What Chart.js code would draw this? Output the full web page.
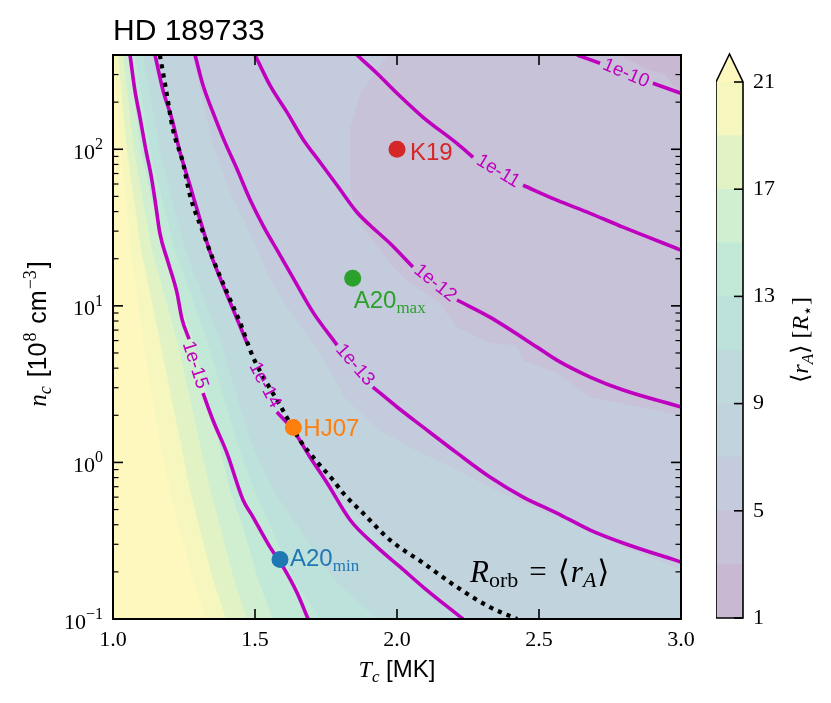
<!DOCTYPE html>
<html>
<head>
<meta charset="utf-8">
<script src="https://cdn.jsdelivr.net/npm/chart.js@4.4.1/dist/chart.umd.min.js"></script>
<style>
  html, body { margin: 0; padding: 0; background: #fff; }
  #wrap { position: relative; width: 831px; height: 703px; }
  #chart { position: absolute; left: 0; top: 0; }
  #cbar { position: absolute; left: 716px; top: 0; }
</style>
</head>
<body>
<div id="wrap">
  <canvas id="chart" width="831" height="703"></canvas>
  <canvas id="cbar" width="115" height="703"></canvas>
</div>
<script>
// axis limits
const xMin = 1, xMax = 3, yMin = 0.1, yMax = 400;
const xTicks = [1.0, 1.5, 2.0, 2.5, 3.0];
const yMajor = [0.1, 1, 10, 100];
const yMajorExp = ['\u22121', '0', '1', '2'];
const yMinor = [0.2, 0.3, 0.4, 0.5, 0.6, 0.7, 0.8, 0.9, 2, 3, 4, 5, 6, 7, 8, 9,
                20, 30, 40, 50, 60, 70, 80, 90, 200, 300, 400];

// filled contours of <r_A>: edge of each level (T in MK, n in 1e8 cm^-3)
const rowN   = [400, 98.5, 22.7, 6.04, 1.39, 0.667, 0.371, 0.178, 0.1];
const edge21 = [1.004, 1.028, 1.063, 1.106, 1.165, 1.201, 1.236, 1.282, 1.331];
const edge19 = [1.018, 1.049, 1.099, 1.165, 1.236, 1.271, 1.306, 1.352, 1.398];
const edge17 = [1.035, 1.074, 1.137, 1.225, 1.303, 1.342, 1.380, 1.426, 1.472];
const edge15 = [1.053, 1.099, 1.176, 1.282, 1.370, 1.412, 1.461, 1.511, 1.563];
const edge13 = [1.077, 1.130, 1.218, 1.331, 1.433, 1.496, 1.560, 1.637, 1.729];
const edge11 = [1.106, 1.165, 1.254, 1.377, 1.482, 1.563, 1.658, 1.778, 1.930];
const edge9  = [1.155, 1.225, 1.331, 1.458, 1.648, 1.775, 1.912, 2.067, 2.257];
const edge7T = [1.278, 1.317, 1.352, 1.412, 1.482, 1.553, 1.616, 1.722, 1.817, 1.926, 2.046, 2.211, 2.327, 2.444, 2.563, 2.680, 2.796, 3.0];
const edge7N = [400, 200, 106, 53.2, 29.5, 14.8, 9.67, 5.22, 2.58, 1.66, 1.25, 0.894, 0.697, 0.551, 0.448, 0.370, 0.288, 0.206];
const edge5T = [1.968, 1.870, 1.835, 1.835, 1.880, 1.986, 2.046, 2.151, 2.211, 2.327, 2.423, 2.444, 2.563, 2.680, 2.856, 3.0];
const edge5N = [400, 227, 138, 54.7, 31.8, 17.7, 14.0, 10.4, 7.31, 5.78, 5.61, 4.50, 3.72, 2.61, 2.26, 2.0];
const edge3T = [2.785, 2.891, 2.944, 2.972, 3.0];
const edge3N = [400, 319, 305, 256, 238];

// mass-loss contours (null = gap for the inline label)
const m15T = [1.060, 1.077, 1.095, 1.116, 1.134, 1.148, 1.165, 1.194, 1.225, 1.243, 1.268, null, 1.317, 1.352, 1.401, 1.458, 1.493, 1.553, 1.599, 1.648, 1.687];
const m15N = [400, 238, 160, 98.5, 68.2, 47.3, 29.1, 19.0, 12.2, 8.23, 6.13, null, 2.77, 1.86, 1.15, 0.575, 0.448, 0.288, 0.215, 0.147, 0.1];
const m14T = [1.148, 1.176, 1.208, 1.236, 1.271, 1.306, 1.342, 1.387, 1.437, 1.475, null, 1.577, 1.634, 1.694, 1.754, 1.835, 1.930, 2.011, 2.092, 2.232];
const m14N = [400, 238, 155, 95.7, 58.9, 35.8, 22.0, 13.6, 8.23, 5.61, null, 2.10, 1.61, 1.08, 0.739, 0.429, 0.288, 0.215, 0.160, 0.1];
const m13T = [1.289, 1.317, 1.352, 1.394, 1.437, 1.482, 1.528, 1.588, 1.648, 1.704, 1.789, null, 1.915, 2.000, 2.092, 2.211, 2.327, 2.444, 2.563, 2.680, 2.796, 3.0];
const m13N = [400, 256, 172, 111, 74.5, 48.0, 32.7, 21.1, 13.6, 9.12, 5.61, null, 3.03, 2.26, 1.68, 1.15, 0.807, 0.601, 0.475, 0.370, 0.306, 0.231];
const m12T = [1.500, 1.553, 1.613, 1.669, 1.729, 1.789, 1.859, 1.905, 1.975, 2.056, null, 2.211, 2.327, 2.493, 2.563, 2.680, 2.796, 3.0];
const m12N = [400, 256, 172, 116, 82.6, 58.9, 39.6, 32.7, 25.1, 17.7, null, 10.9, 8.47, 5.45, 4.50, 3.51, 2.90, 2.26];
const m11T = [1.859, 1.930, 2.000, 2.092, 2.211, 2.268, null, 2.444, 2.563, 2.680, 2.796, 3.0];
const m11N = [400, 305, 228, 160, 109, 88.9, null, 58.9, 47.3, 39.0, 31.8, 22.7];
const m10T = [2.634, 2.715, null, 2.901, 3.0];
const m10N = [400, 354, null, 264, 228];

const lblText = ['1e-15', '1e-14', '1e-13', '1e-12', '1e-11', '1e-10'];
const lblT = [1.289, 1.535, 1.852, 2.134, 2.356, 2.806];
const lblN = [4.19, 3.12, 4.19, 13.96, 72.4, 305];
const lblAngle = [72, 62, 49, 39, 31, 23];

// R_orb = <r_A>
const orbT = [1.165, 1.187, 1.211, 1.246, 1.271, 1.317, 1.352, 1.401, 1.447, 1.493, 1.542, 1.588, 1.658, 1.718, 1.775, 1.810, 1.880, 1.975, 2.092, 2.211, 2.327, 2.423];
const orbN = [400, 238, 134, 82.6, 50.9, 29.5, 19.9, 12.2, 7.87, 4.71, 3.21, 2.32, 1.39, 1.01, 0.772, 0.638, 0.475, 0.320, 0.228, 0.160, 0.119, 0.1];
const orbLabelT = 2.257, orbLabelN = 0.1726;

// literature estimates
const srcNames = ['K19', 'A20', 'HJ07', 'A20'];
const srcSubs = ['', 'max', '', 'min'];
const srcT = [2.0, 1.844, 1.635, 1.588];
const srcN = [100, 15, 1.67, 0.24];

// colour bar
const cbLevels = [1, 3, 5, 7, 9, 11, 13, 15, 17, 19, 21];
const cbTicks = [1, 5, 9, 13, 17, 21];

const bandColors = ['rgb(200,184,209)', 'rgb(199,194,216)', 'rgb(196,203,220)', 'rgb(193,211,221)',
  'rgb(190,218,221)', 'rgb(189,226,219)', 'rgb(194,233,215)', 'rgb(207,239,208)',
  'rgb(225,243,197)', 'rgb(245,247,190)'];
const extColor = 'rgb(254,248,190)';
const lineColor = '#bf00bf';
const srcColors = ['#d62728', '#2ca02c', '#ff7f0e', '#1f77b4'];
const srcDx = [13, 1, 10, 10], srcDy = [11, 30, 8, 7];

const serif = '"Liberation Serif", "DejaVu Serif", serif';
const sans = '"Liberation Sans", Arial, sans-serif';

function toPts(T, N) { return T.map((t, i) => ({x: t, y: N[i]})); }
function region(T, N) {
  const pts = toPts(T, N);
  if (pts[pts.length - 1].x < xMax) pts.push({x: xMax, y: yMin});
  pts.push({x: xMax, y: yMax});
  return pts;
}

const edges = [[21, edge21, rowN], [19, edge19, rowN], [17, edge17, rowN], [15, edge15, rowN],
  [13, edge13, rowN], [11, edge11, rowN], [9, edge9, rowN],
  [7, edge7T, edge7N], [5, edge5T, edge5N], [3, edge3T, edge3N]];

const bandSets = edges.map(([lev, T, N], i) => ({
  data: region(T, N), fill: 'shape', backgroundColor: bandColors[(lev - 3) / 2],
  borderColor: 'rgba(0,0,0,0)', borderWidth: 0, pointRadius: 0, tension: 0, order: 100 - i
}));

const lineSets = [[m15T, m15N], [m14T, m14N], [m13T, m13N], [m12T, m12N], [m11T, m11N], [m10T, m10N]]
  .map(([T, N]) => ({
    data: toPts(T, N), borderColor: lineColor, borderWidth: 3.6, pointRadius: 0,
    fill: false, cubicInterpolationMode: 'monotone', order: 10
  }));

const orbSet = {
  data: toPts(orbT, orbN), borderColor: '#000', borderWidth: 4.2, borderDash: [4.2, 5.2],
  borderCapStyle: 'butt', pointRadius: 0, fill: false, cubicInterpolationMode: 'monotone', order: 9
};

const srcSet = {
  data: toPts(srcT, srcN), showLine: false, pointRadius: 8.5, pointBorderWidth: 0,
  pointBackgroundColor: srcColors, fill: false, order: 1
};

function runsWidth(ctx, runs) {
  let w = 0;
  for (const r of runs) { ctx.font = r.f; w += ctx.measureText(r.t).width + (r.gap || 0); }
  return w;
}
function drawRuns(ctx, x, y, runs, color) {
  ctx.fillStyle = color;
  ctx.textAlign = 'left';
  ctx.textBaseline = 'alphabetic';
  for (const r of runs) {
    ctx.font = r.f;
    ctx.fillText(r.t, x, y + (r.dy || 0));
    x += ctx.measureText(r.t).width + (r.gap || 0);
  }
}
function seg(ctx, x1, y1, x2, y2) {
  ctx.beginPath(); ctx.moveTo(x1, y1); ctx.lineTo(x2, y2); ctx.stroke();
}

const decor = {
  id: 'decor',
  beforeDatasetsDraw(chart) {
    const {ctx, chartArea: a} = chart;
    ctx.save();
    ctx.fillStyle = extColor;
    ctx.fillRect(a.left, a.top, a.right - a.left, a.bottom - a.top);
    ctx.restore();
  },
  afterDraw(chart) {
    const {ctx, chartArea: a, scales: {x, y}} = chart;
    ctx.save();

    // inline contour labels
    ctx.fillStyle = lineColor;
    ctx.font = `19px ${sans}`;
    ctx.textAlign = 'center';
    ctx.textBaseline = 'middle';
    lblText.forEach((t, i) => {
      ctx.save();
      ctx.translate(x.getPixelForValue(lblT[i]), y.getPixelForValue(lblN[i]));
      ctx.rotate(lblAngle[i] * Math.PI / 180);
      ctx.fillText(t, 0, 0);
      ctx.restore();
    });

    // source labels
    srcNames.forEach((name, i) => {
      const px = x.getPixelForValue(srcT[i]) + srcDx[i];
      const py = y.getPixelForValue(srcN[i]) + srcDy[i];
      const runs = [{t: name, f: `24px ${sans}`}];
      if (srcSubs[i]) runs.push({t: srcSubs[i], f: `17px ${serif}`, dy: 5});
      drawRuns(ctx, px, py, runs, srcColors[i]);
    });

    // R_orb = <r_A>
    drawRuns(ctx, x.getPixelForValue(orbLabelT), y.getPixelForValue(orbLabelN), [
      {t: 'R', f: `italic 31px ${serif}`},
      {t: 'orb', f: `22px ${serif}`, dy: 5, gap: 11},
      {t: '=', f: `31px ${serif}`, gap: 11},
      {t: '\u27E8', f: `31px ${serif}`, gap: 1},
      {t: 'r', f: `italic 31px ${serif}`},
      {t: 'A', f: `italic 22px ${serif}`, dy: 5, gap: 1},
      {t: '\u27E9', f: `31px ${serif}`}
    ], '#000');

    // ticks and frame
    ctx.strokeStyle = '#000';
    ctx.lineWidth = 1.6;
    xTicks.forEach(v => {
      const px = x.getPixelForValue(v);
      seg(ctx, px, a.bottom, px, a.bottom - 10);
      seg(ctx, px, a.top, px, a.top + 10);
    });
    yMajor.forEach(v => {
      const py = y.getPixelForValue(v);
      seg(ctx, a.left, py, a.left + 10, py);
      seg(ctx, a.right, py, a.right - 10, py);
    });
    ctx.lineWidth = 1.2;
    yMinor.forEach(v => {
      const py = y.getPixelForValue(v);
      seg(ctx, a.left, py, a.left + 5.5, py);
      seg(ctx, a.right, py, a.right - 5.5, py);
    });
    ctx.lineWidth = 2;
    ctx.strokeRect(a.left, a.top, a.right - a.left, a.bottom - a.top);

    // tick labels
    ctx.fillStyle = '#000';
    ctx.font = `22px ${serif}`;
    ctx.textAlign = 'center';
    ctx.textBaseline = 'alphabetic';
    xTicks.forEach(v => ctx.fillText(v.toFixed(1), x.getPixelForValue(v), a.bottom + 27));
    yMajor.forEach((v, i) => {
      const py = y.getPixelForValue(v);
      ctx.textAlign = 'right';
      ctx.font = `16px ${serif}`;
      const supW = ctx.measureText(yMajorExp[i]).width;
      ctx.fillText(yMajorExp[i], a.left - 10, py);
      ctx.font = `22px ${serif}`;
      ctx.fillText('10', a.left - 10 - supW, py + 9.5);
    });

    // axis titles
    const xt = [
      {t: 'T', f: `italic 24px ${serif}`},
      {t: 'c', f: `italic 17px ${serif}`, dy: 5},
      {t: ' [MK]', f: `24px ${sans}`}
    ];
    drawRuns(ctx, (a.left + a.right) / 2 - runsWidth(ctx, xt) / 2, 677, xt, '#000');

    const yt = [
      {t: 'n', f: `italic 25px ${serif}`},
      {t: 'c', f: `italic 18px ${serif}`, dy: 5, gap: 2},
      {t: ' [10', f: `25px ${sans}`, gap: 1},
      {t: '8', f: `18px ${serif}`, dy: -10, gap: 2},
      {t: ' cm', f: `25px ${sans}`, gap: 1},
      {t: '\u22123', f: `18px ${serif}`, dy: -10, gap: 2},
      {t: ']', f: `25px ${sans}`}
    ];
    ctx.save();
    ctx.translate(46, (a.top + a.bottom) / 2 - 3);
    ctx.rotate(-Math.PI / 2);
    drawRuns(ctx, -runsWidth(ctx, yt) / 2, 0, yt, '#000');
    ctx.restore();

    // title
    ctx.fillStyle = '#000';
    ctx.font = `30px ${sans}`;
    ctx.textAlign = 'left';
    ctx.fillText('HD 189733', a.left, 40);
    ctx.restore();
  }
};

new Chart(document.getElementById('chart'), {
  type: 'line',
  data: {datasets: [srcSet, orbSet, ...lineSets, ...bandSets]},
  options: {
    responsive: false,
    animation: false,
    events: [],
    layout: {padding: {top: 55, right: 150, left: 0, bottom: 0}},
    plugins: {legend: {display: false}, tooltip: {enabled: false}, title: {display: false}},
    scales: {
      x: {
        type: 'linear', min: xMin, max: xMax,
        ticks: {display: false}, grid: {display: false, drawTicks: false}, border: {display: false},
        afterFit: s => { s.height = 84; }
      },
      y: {
        type: 'logarithmic', min: yMin, max: yMax,
        ticks: {display: false}, grid: {display: false, drawTicks: false}, border: {display: false},
        afterFit: s => { s.width = 113; }
      }
    }
  },
  plugins: [decor]
});

// colour bar
const cbDecor = {
  id: 'cbDecor',
  afterDraw(chart) {
    const {ctx, chartArea: a, scales: {y}} = chart;
    const mid = (a.left + a.right) / 2;
    ctx.save();
    ctx.fillStyle = extColor;
    ctx.beginPath();
    ctx.moveTo(a.left, a.top); ctx.lineTo(mid, a.top - 28); ctx.lineTo(a.right, a.top); ctx.closePath();
    ctx.fill();
    ctx.strokeStyle = '#000';
    ctx.lineWidth = 1.6;
    ctx.beginPath();
    ctx.moveTo(a.left, a.bottom); ctx.lineTo(a.left, a.top); ctx.lineTo(mid, a.top - 28);
    ctx.lineTo(a.right, a.top); ctx.lineTo(a.right, a.bottom); ctx.closePath();
    ctx.stroke();
    cbTicks.forEach(v => seg(ctx, a.right - 9, y.getPixelForValue(v), a.right, y.getPixelForValue(v)));

    const runs = [
      {t: '\u27E8', f: `24px ${serif}`},
      {t: 'r', f: `italic 24px ${serif}`},
      {t: 'A', f: `italic 17px ${serif}`, dy: 5},
      {t: '\u27E9', f: `24px ${serif}`, gap: 6},
      {t: '[', f: `24px ${serif}`},
      {t: 'R', f: `italic 24px ${serif}`},
      {t: '\u22C6', f: `17px ${serif}`, dy: 5},
      {t: ']', f: `24px ${serif}`}
    ];
    ctx.translate(92, 340);
    ctx.rotate(-Math.PI / 2);
    drawRuns(ctx, -runsWidth(ctx, runs) / 2, 0, runs, '#000');
    ctx.restore();
  }
};

new Chart(document.getElementById('cbar'), {
  type: 'bar',
  data: {
    labels: [''],
    datasets: cbLevels.slice(0, -1).map((lo, i) => ({
      data: [[lo, cbLevels[i + 1]]], backgroundColor: bandColors[i], borderWidth: 0,
      grouped: false, barPercentage: 1, categoryPercentage: 1
    }))
  },
  options: {
    responsive: false,
    animation: false,
    events: [],
    layout: {padding: {top: 82, bottom: 85, left: 0, right: 0}},
    plugins: {legend: {display: false}, tooltip: {enabled: false}},
    scales: {
      x: {display: false},
      y: {
        position: 'right', min: 1, max: 21,
        afterBuildTicks: s => { s.ticks = cbTicks.map(v => ({value: v})); },
        ticks: {font: {family: serif, size: 22}, color: '#000', padding: 10, callback: v => String(v)},
        grid: {display: false, drawTicks: false}, border: {display: false},
        afterFit: s => { s.width = 88; }
      }
    }
  },
  plugins: [cbDecor]
});
</script>
</body>
</html>
